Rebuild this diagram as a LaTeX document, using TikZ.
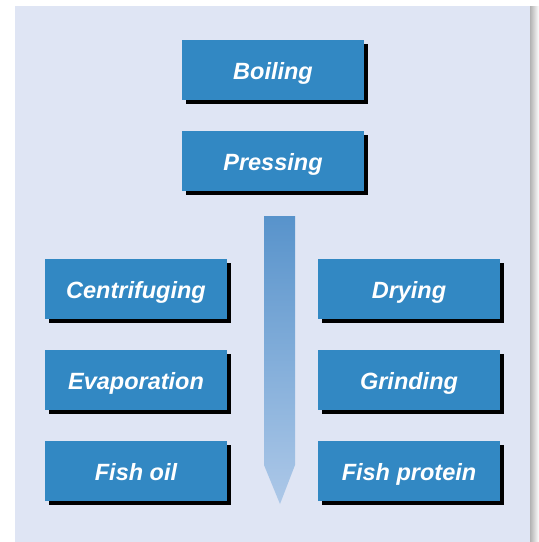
\documentclass[tikz,border=0pt]{standalone}
\usepackage{fontspec}
\setmainfont{Liberation Sans}
\definecolor{panel}{HTML}{DFE5F4}
\definecolor{boxblue}{HTML}{3288C3}
\definecolor{arrtop}{HTML}{5893CB}
\definecolor{arrbot}{HTML}{ADC8E8}
\tikzset{
  stepbox/.style={fill=boxblue, minimum width=182pt, minimum height=60pt, inner sep=0pt,
    text=white, font=\fontsize{23.5}{26}\selectfont\bfseries\itshape,
    text height=18.4pt, text depth=0pt},
  shadowbox/.style={fill=black}
}
\begin{document}
\begin{tikzpicture}[x=1pt,y=-1pt]
\useasboundingbox (0,0) rectangle (539,542);
\fill[white] (0,0) rectangle (539,542);
% gray shadow strip on right
\shade[left color=black!30, right color=white] (530,6) rectangle (539,542);
\fill[panel] (15,6) rectangle (530,542);
% arrow
\shade[top color=arrtop, bottom color=arrbot] (264,216) -- (295,216) -- (295,465) -- (280,504) -- (264,465) -- cycle;
% shadows
\foreach \x/\y in {182/40,182/131,45/259,45/350,45/441,318/259,318/350,318/441}
  \fill[shadowbox] (\x+4,\y+4) rectangle (\x+186,\y+64);
% boxes
\node[stepbox] (boil) at (273,70) {Boiling};
\node[stepbox] (press) at (273,161) {Pressing};
\node[stepbox] (centr) at (136,289) {Centrifuging};
\node[stepbox] (evap) at (136,380) {Evaporation};
\node[stepbox] (oil) at (136,471) {Fish oil};
\node[stepbox] (dry) at (409,289) {Drying};
\node[stepbox] (grind) at (409,380) {Grinding};
\node[stepbox] (prot) at (409,471) {Fish protein};
\end{tikzpicture}
\end{document}
